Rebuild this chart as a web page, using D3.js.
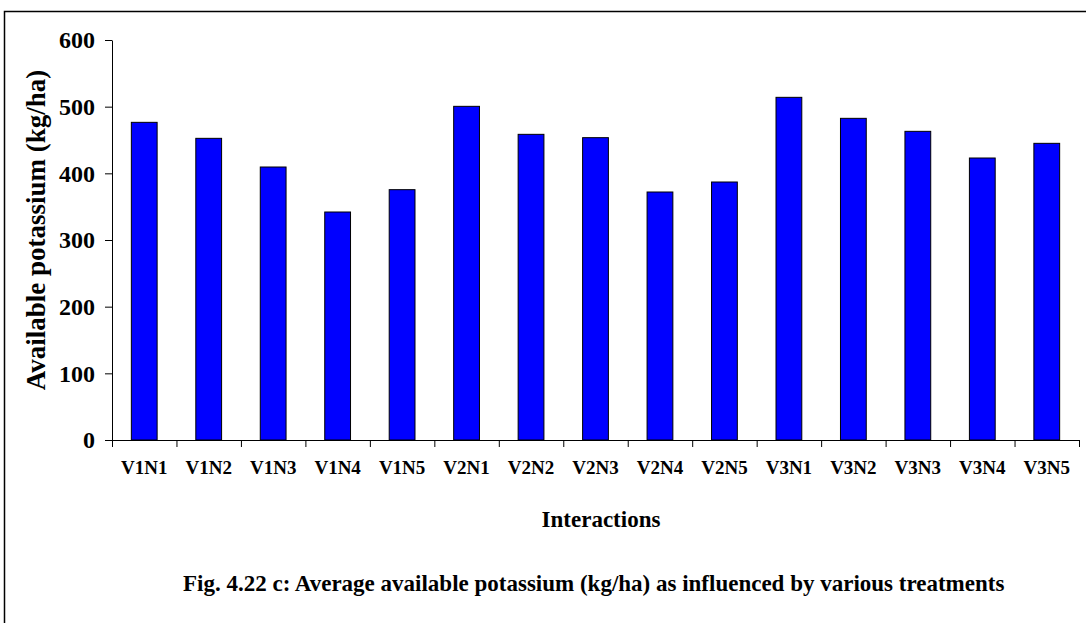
<!DOCTYPE html>
<html>
<head>
<meta charset="utf-8">
<script src="https://cdn.jsdelivr.net/npm/d3@7"></script>
<style>
    body { margin: 0; background: #fff; }
    svg { display: block; }
</style>
</head>
<body>
<div id="chart"></div>
<script>
// data
const categories = ["V1N1", "V1N2", "V1N3", "V1N4", "V1N5",
                    "V2N1", "V2N2", "V2N3", "V2N4", "V2N5",
                    "V3N1", "V3N2", "V3N3", "V3N4", "V3N5"];
const potassium = [476.5, 452.5, 409.5, 342, 375.5,
                   500.5, 458.5, 453.5, 372, 387,
                   514, 482.5, 463, 423, 445];
const yTicks = [0, 100, 200, 300, 400, 500, 600];

const data = categories.map((c, i) => ({ name: c, value: potassium[i] }));

const width = 1086;
const height = 623;
const margin = { top: 40, right: 7, bottom: 183, left: 112 };
const innerWidth = width - margin.left - margin.right;
const innerHeight = height - margin.top - margin.bottom;

const FONT = "Liberation Serif";

const svg = d3.select("#chart").append("svg")
    .attr("width", width)
    .attr("height", height)
    .attr("font-family", FONT)
    .attr("font-weight", "bold");

// outer frame: only its top and left edges are inside the picture
svg.append("path")
    .attr("d", `M4.5,${height}V11.5H${width}`)
    .attr("fill", "none")
    .attr("stroke", "#000")
    .attr("stroke-width", 1.5);

const chart = svg.append("g")
    .attr("transform", `translate(${margin.left},${margin.top})`);

// scales
const x = d3.scaleBand()
    .domain(categories)
    .range([0, innerWidth])
    .paddingInner(0.6)
    .paddingOuter(0.3);

const xEdges = d3.scaleLinear()
    .domain([0, categories.length])
    .range([0, innerWidth]);

const y = d3.scaleLinear()
    .domain([0, 600])
    .range([innerHeight, 0]);

// bars
chart.selectAll(".bar")
    .data(data)
    .enter()
    .append("rect")
    .attr("class", "bar")
    .attr("x", d => x(d.name))
    .attr("y", d => y(d.value))
    .attr("width", x.bandwidth())
    .attr("height", d => y(0) - y(d.value))
    .attr("fill", "#0000ff")
    .attr("stroke", "#000")
    .attr("stroke-width", 1);

// y axis
const yAxis = chart.append("g")
    .call(d3.axisLeft(y)
        .tickValues(yTicks)
        .tickSize(7)
        .tickSizeOuter(0)
        .tickPadding(10))
    .attr("font-family", FONT)
    .attr("font-size", 24);
yAxis.selectAll("path, line").attr("stroke", "#000");
yAxis.selectAll("text").attr("fill", "#000");

// x axis line with ticks at category boundaries
const xAxis = chart.append("g")
    .attr("transform", `translate(0,${innerHeight})`)
    .call(d3.axisBottom(xEdges)
        .tickValues(d3.range(categories.length + 1))
        .tickSize(7)
        .tickSizeOuter(0)
        .tickFormat(""));
xAxis.selectAll("path, line").attr("stroke", "#000");

// category labels
const xLabels = chart.append("g")
    .attr("transform", `translate(0,${innerHeight})`)
    .call(d3.axisBottom(x).tickSize(0).tickPadding(0))
    .attr("font-family", FONT)
    .attr("font-size", 19);
xLabels.select(".domain").remove();
xLabels.selectAll("text")
    .attr("y", 34)
    .attr("dy", null)
    .attr("fill", "#000");

// axis titles
svg.append("text")
    .attr("x", 601)
    .attr("y", 527)
    .attr("text-anchor", "middle")
    .attr("font-size", 23)
    .text("Interactions");

svg.append("text")
    .attr("transform", "translate(45,230) rotate(-90)")
    .attr("text-anchor", "middle")
    .attr("font-size", 27)
    .text("Available potassium (kg/ha)");

// caption
svg.append("text")
    .attr("x", 183)
    .attr("y", 591)
    .attr("font-size", 23)
    .text("Fig. 4.22 c: Average available potassium (kg/ha) as influenced by various treatments");
</script>
</body>
</html>
